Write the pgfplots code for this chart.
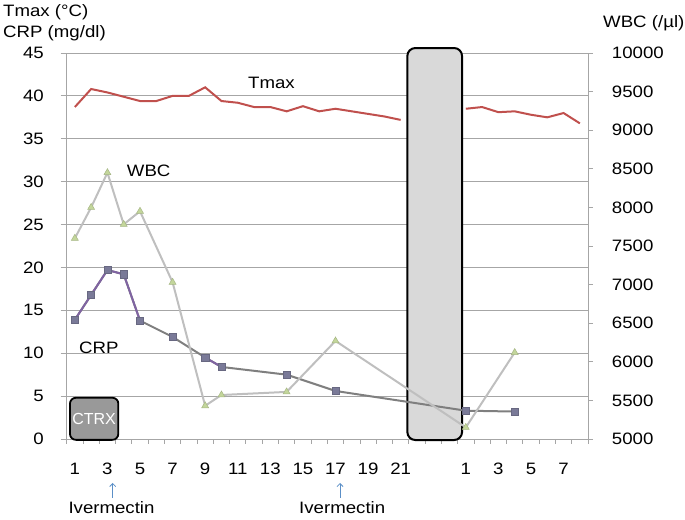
\documentclass[border=0pt]{standalone}
\usepackage{fontspec}
\setmainfont{Liberation Sans}[FakeStretch=1.13]
\newfontfamily\plainfont{Liberation Sans}
\usepackage{pgfplots}
\pgfplotsset{compat=1.18}
\usetikzlibrary{arrows.meta}
\definecolor{tmaxred}{HTML}{C0504D}
\definecolor{wbcline}{HTML}{BFBFBF}
\definecolor{wbcmark}{HTML}{C3D69B}
\definecolor{crpline}{HTML}{7F7F7F}
\definecolor{crpmark}{HTML}{7A7A98}
\definecolor{crppurple}{HTML}{8064A2}
\definecolor{gridgray}{HTML}{A6A6A6}
\definecolor{arrowblue}{HTML}{5B8FC7}
\begin{document}
\fontsize{16.5bp}{19.8bp}\selectfont
\begin{tikzpicture}[font=\fontsize{16.5bp}{19.8bp}\selectfont]
\useasboundingbox (0,0) rectangle (685bp,520bp);
\pgfplotsset{
  mybase/.style={
    at={(66.7bp,81bp)}, anchor=south west, scale only axis,
    width=521.3bp, height=386bp,
    xmin=-0.5, xmax=31.5,
    clip=false,
    axis line style={-, gridgray, line width=0.8bp},
    tick style={gridgray, line width=0.8bp},
    tick align=outside,
    /pgf/number format/assume math mode=true,
    /pgf/number format/1000 sep={},
    scaled y ticks=false,
    tick label style={font=\fontsize{16.5bp}{19.8bp}\selectfont, text=black},
  }
}
\begin{axis}[mybase,
  ymin=0, ymax=45, ytick={0,5,...,45},
  ymajorgrids, grid style={gridgray, line width=0.8bp},
  axis x line*=bottom, axis y line*=left,
  xtick={0,2,4,6,8,10,12,14,16,18,20,24,26,28,30},
  xticklabels={1,3,5,7,9,11,13,15,17,19,21,1,3,5,7},
  minor xtick={-0.5,0.5,...,31.5},
  major x tick style={draw=none},
  minor tick length=5bp, major tick length=6bp,
  xticklabel style={anchor=base, inner sep=0pt, yshift=-30bp},
  yticklabel style={anchor=east, inner sep=0pt, xshift=-16.7bp},
]
% bars / boxes behind the lines
\draw[fill=black!15, draw=black, line width=2bp, rounded corners=8bp]
  (axis cs:20.41,-0.12) rectangle (axis cs:23.77,45.58);
\draw[fill=black!40, draw=black, line width=1.8bp, rounded corners=6bp]
  (axis cs:-0.3,-0.1) rectangle (axis cs:2.67,4.81);
\node[text=white, font=\plainfont\fontsize{16bp}{19bp}\selectfont] at (axis cs:1.18,2.3) {CTRX};
% Tmax
\addplot[tmaxred, line width=2bp, no markers] coordinates {
(0,38.7)(1,40.8)(2,40.4)(3,39.9)(4,39.4)(5,39.4)(6,40.0)(7,40.0)(8,41.0)(9,39.4)
(10,39.2)(11,38.7)(12,38.7)(13,38.2)(14,38.8)(15,38.2)(16,38.5)(17,38.2)(18,37.9)(19,37.6)(20,37.2)};
\addplot[tmaxred, line width=2bp, no markers] coordinates {
(24,38.5)(25,38.7)(26,38.1)(27,38.2)(28,37.8)(29,37.5)(30,38.0)(31,36.8)};
% CRP
\addplot[crpline, line width=2bp, no markers] coordinates {
(0,13.9)(1,16.8)(2,19.7)(3,19.2)(4,13.8)(6,11.9)(8,9.5)(9,8.4)(13,7.5)(16,5.6)(24,3.3)(27,3.2)};
\addplot[crppurple, line width=2bp, no markers] coordinates {
(0,13.9)(1,16.8)(2,19.7)(3,19.2)(4,13.8)};
\addplot[crppurple, line width=2bp, no markers] coordinates {(8,9.5)(9,8.4)};
\addplot[only marks, mark=square*, mark size=3.6bp, mark options={fill=crpmark, draw=crpmark!85!black, line width=0.5bp}] coordinates {
(0,13.9)(1,16.8)(2,19.7)(3,19.2)(4,13.8)(6,11.9)(8,9.5)(9,8.4)(13,7.5)(16,5.6)(24,3.3)(27,3.2)};
\end{axis}
\begin{axis}[mybase,
  ymin=5000, ymax=10000, ytick={5000,5500,...,10000},
  axis x line=none, axis y line*=right,
  major tick length=5bp,
  yticklabel style={anchor=west, inner sep=0pt, xshift=18.7bp},
]
\addplot[wbcline, line width=2bp, mark=triangle*, mark size=4bp,
  mark options={fill=wbcmark, draw=wbcmark!85!black, line width=0.5bp}] coordinates {
(0,7600)(1,8000)(2,8450)(3,7780)(4,7950)(6,7030)(8,5430)(9,5570)(13,5610)(16,6270)(24,5150)(27,6120)};
\end{axis}
% text annotations
\node[anchor=base west, inner sep=0pt] at (3bp,503.3bp) {Tmax (°C)};
\node[anchor=base west, inner sep=0pt] at (3bp,482bp) {CRP (mg/dl)};
\node[anchor=base west, inner sep=0pt] at (603bp,492.3bp) {WBC (/µl)};
\node[anchor=base west, inner sep=0pt] at (248bp,431.7bp) {Tmax};
\node[anchor=base west, inner sep=0pt] at (126.7bp,343.3bp) {WBC};
\node[anchor=base west, inner sep=0pt] at (79bp,166.7bp) {CRP};
\node[anchor=base west, inner sep=0pt] at (68.3bp,7bp) {Ivermectin};
\node[anchor=base west, inner sep=0pt] at (299bp,7bp) {Ivermectin};
\draw[arrowblue, line width=0.8bp, -{Straight Barb[length=3bp,width=6bp]}] (112.7bp,22bp) -- (112.7bp,37bp);
\draw[arrowblue, line width=0.8bp, -{Straight Barb[length=3bp,width=6bp]}] (340bp,22bp) -- (340bp,37bp);
\end{tikzpicture}
\end{document}
